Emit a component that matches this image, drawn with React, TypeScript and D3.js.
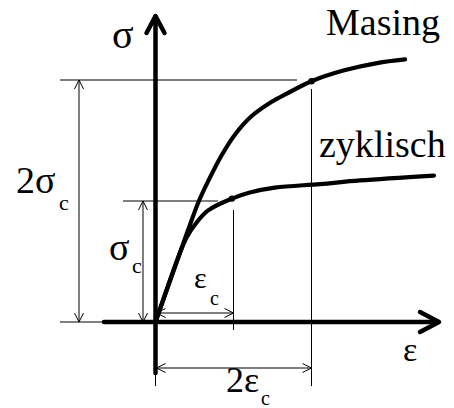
import React from "react";
import * as d3 from "d3";

// strain in units of eps_c, stress in units of sigma_c
const masingEps = [0, 0.34, 0.44, 0.55, 0.68, 0.85, 1.02, 1.23, 1.49, 1.69, 2.0, 2.42, 2.84, 3.2];
const masingSig = [0, 0.62, 0.8, 0.99, 1.17, 1.38, 1.55, 1.7, 1.82, 1.89, 1.99, 2.08, 2.14, 2.17];
const zykEps = [0, 0.3, 0.4, 0.5, 0.67, 0.98, 1.21, 1.53, 2.11, 2.62, 3.57];
const zykSig = [0, 0.55, 0.7, 0.8, 0.92, 1.02, 1.07, 1.11, 1.14, 1.17, 1.21];
const markers = [
  { eps: 0.98, sig: 1.02 },
  { eps: 2, sig: 1.99 },
];
const curveLabels = ["Masing", "zyklisch"];

const W = 454;
const H = 408;
const FONT = "'Liberation Serif', 'Times New Roman', Times, 'DejaVu Serif', serif";

const x = d3.scaleLinear().domain([0, 1]).range([155.5, 233.5]);
const y = d3.scaleLinear().domain([0, 1]).range([322, 201]);

const line = d3
  .line<[number, number]>()
  .x((d) => x(d[0]))
  .y((d) => y(d[1]))
  .curve(d3.curveCatmullRom.alpha(0.5));

const masing = masingEps.map((e, i) => [e, masingSig[i]] as [number, number]);
const zyk = zykEps.map((e, i) => [e, zykSig[i]] as [number, number]);

// open arrowhead at (tx,ty) pointing in direction (dx,dy)
const head = (tx: number, ty: number, dx: number, dy: number, len = 9, w = 4.5) => {
  const px = -dy;
  const py = dx;
  return `M${tx - dx * len + px * w},${ty - dy * len + py * w}L${tx},${ty}L${tx - dx * len - px * w},${ty - dy * len - py * w}`;
};

const DimV = ({ xp, y1, y2 }: { xp: number; y1: number; y2: number }) => (
  <g stroke="#000" strokeWidth={1} fill="none">
    <line x1={xp} x2={xp} y1={y1} y2={y2} />
    <path d={head(xp, y1, 0, -1)} />
    <path d={head(xp, y2, 0, 1)} />
  </g>
);

const DimH = ({ yp, x1, x2 }: { yp: number; x1: number; x2: number }) => (
  <g stroke="#000" strokeWidth={1} fill="none">
    <line x1={x1} x2={x2} y1={yp} y2={yp} />
    <path d={head(x1, yp, -1, 0)} />
    <path d={head(x2, yp, 1, 0)} />
  </g>
);

const Txt = ({ x, y, size, children }: { x: number; y: number; size: number; children: React.ReactNode }) => (
  <text x={x} y={y} fill="#000" fontFamily={FONT} fontSize={size}>
    {children}
  </text>
);

export default function App() {
  const x0 = x(0);
  const y0 = y(0);
  const x1 = x(1);
  const x2 = x(2);
  const y1 = y(1);
  const y2 = y(2);

  return (
    <svg
      width={W}
      height={H}
      style={{ position: "absolute", left: 0, top: 0, background: "#fff" }}
    >
      {/* thin reference lines */}
      <g stroke="#000" strokeWidth={1}>
        <line x1={60} x2={297} y1={y2} y2={y2} />
        <line x1={123} x2={218} y1={y1} y2={y1} />
        <line x1={60} x2={110} y1={y0} y2={y0} />
        <line x1={x1} x2={x1} y1={210} y2={330} />
        <line x1={x2} x2={x2} y1={89} y2={386} />
        <line x1={x0} x2={x0} y1={y0} y2={386} />
      </g>

      <DimV xp={79} y1={y2} y2={y0} />
      <DimV xp={143} y1={y1} y2={y0} />
      <DimH yp={313} x1={x0 + 1} x2={x1} />
      <DimH yp={368} x1={x0 + 1} x2={x2} />

      {/* axes */}
      <g stroke="#000" strokeWidth={4.5} fill="none" strokeLinejoin="round" strokeLinecap="round">
        <line x1={x0} x2={x0} y1={373} y2={17} />
        <line x1={104} x2={438} y1={y0} y2={y0} />
        <path d={head(x0, 16, 0, -1, 17, 9)} />
        <path d={head(439, y0, 1, 0, 19, 10)} />
      </g>

      {/* curves */}
      <g fill="none" stroke="#000" strokeWidth={4.2} strokeLinecap="round">
        <path d={line(masing) ?? ""} />
        <path d={line(zyk) ?? ""} />
      </g>
      {markers.map((m, i) => (
        <circle key={i} cx={x(m.eps)} cy={y(m.sig)} r={3.2} fill="#000" />
      ))}

      {/* labels */}
      <Txt x={326} y={35} size={38}>{curveLabels[0]}</Txt>
      <Txt x={319} y={157} size={38}>{curveLabels[1]}</Txt>
      <Txt x={112} y={48} size={40}>σ</Txt>
      <Txt x={403} y={361} size={34}>ε</Txt>

      <Txt x={16} y={193} size={38}>2σ</Txt>
      <Txt x={59} y={210} size={22}>c</Txt>

      <Txt x={109} y={260} size={38}>σ</Txt>
      <Txt x={132} y={273} size={22}>c</Txt>

      <Txt x={194} y={288} size={30}>ε</Txt>
      <Txt x={210} y={305} size={20}>c</Txt>

      <Txt x={226} y={392} size={36}>2ε</Txt>
      <Txt x={261} y={405} size={20}>c</Txt>
    </svg>
  );
}
